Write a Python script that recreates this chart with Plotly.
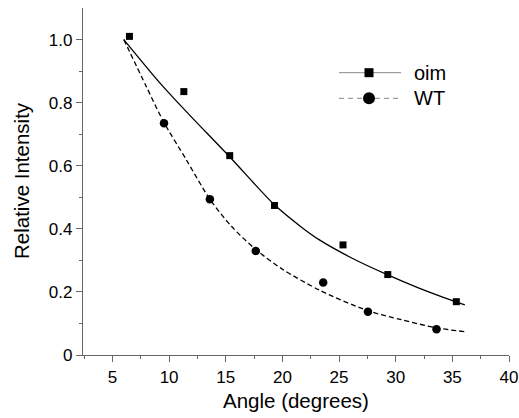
import plotly.graph_objects as go

# Measured data points
oim_angle = [6.5, 11.3, 15.35, 19.3, 25.35, 29.3, 35.35]
oim_intensity = [1.01, 0.835, 0.632, 0.474, 0.349, 0.255, 0.169]
wt_angle = [9.55, 13.6, 17.65, 23.6, 27.55, 33.6]
wt_intensity = [0.735, 0.494, 0.330, 0.230, 0.137, 0.082]

# Fitted curves
oim_fit_angle = [6.0, 9.2, 11.35, 15.3, 19.3, 21.8, 23.3, 26.2, 29.3, 32.0, 35.2, 36.1]
oim_fit_value = [1.0, 0.862, 0.778, 0.630, 0.476, 0.402, 0.364, 0.306, 0.254, 0.213, 0.170, 0.159]
wt_fit_angle = [6.0, 8.0, 9.5, 11.5, 13.6, 15.5, 17.7, 20.0, 23.3, 27.5, 30.5, 33.6, 36.1]
wt_fit_value = [1.0, 0.85, 0.74, 0.62, 0.494, 0.408, 0.333, 0.272, 0.205, 0.141, 0.112, 0.086, 0.074]

x_ticks = [5, 10, 15, 20, 25, 30, 35, 40]
y_ticks = [0, 0.2, 0.4, 0.6, 0.8, 1.0]
y_tick_text = ["0", "0.2", "0.4", "0.6", "0.8", "1.0"]
legend_names = ["oim", "WT"]
x_title = "Angle (degrees)"
y_title = "Relative Intensity"

FONT = "Arial, 'Liberation Sans', Helvetica, sans-serif"

fig = go.Figure()
fig.add_trace(go.Scatter(x=oim_fit_angle, y=oim_fit_value, mode="lines",
                         line=dict(color="black", width=1.3, shape="spline", smoothing=0.8),
                         showlegend=False, hoverinfo="skip"))
fig.add_trace(go.Scatter(x=wt_fit_angle, y=wt_fit_value, mode="lines",
                         line=dict(color="black", width=1.3, dash="5px,3px", shape="spline", smoothing=0.8),
                         showlegend=False, hoverinfo="skip"))
fig.add_trace(go.Scatter(x=oim_angle, y=oim_intensity, mode="markers",
                         marker=dict(symbol="square", size=7, color="black"),
                         name=legend_names[0], showlegend=False))
fig.add_trace(go.Scatter(x=wt_angle, y=wt_intensity, mode="markers",
                         marker=dict(symbol="circle", size=8.5, color="black"),
                         name=legend_names[1], showlegend=False))

# Custom legend and axis titles (paper coordinates)
W, H, L, B = 426.0, 347.0, 83.0, 355.0
def px(x):
    return (x - L) / W
def py(y):
    return (B - y) / H

shapes = []
annotations = []
rows = [(72.7, "solid", "square"), (98.3, "dash", "circle")]
for (ypix, dash, sym), name in zip(rows, legend_names):
    shapes.append(dict(type="line", xref="paper", yref="paper",
                       x0=px(339), x1=px(401), y0=py(ypix), y1=py(ypix),
                       line=dict(color="#888888", width=1, dash="solid" if dash == "solid" else "5px,4px")))
    if sym == "square":
        shapes.append(dict(type="rect", xref="paper", yref="paper",
                           xsizemode="pixel", ysizemode="pixel",
                           xanchor=px(369), yanchor=py(ypix),
                           x0=-4.5, x1=4.5, y0=-4.5, y1=4.5,
                           fillcolor="black", line=dict(width=0)))
    else:
        shapes.append(dict(type="circle", xref="paper", yref="paper",
                           xsizemode="pixel", ysizemode="pixel",
                           xanchor=px(369), yanchor=py(ypix),
                           x0=-6, x1=6, y0=-6, y1=6,
                           fillcolor="black", line=dict(width=0)))
    annotations.append(dict(text=name, xref="paper", yref="paper",
                            x=px(412), y=py(ypix), xanchor="left", yanchor="middle",
                            showarrow=False, font=dict(size=20, color="black", family=FONT)))

annotations.append(dict(text=x_title, xref="paper", yref="paper", x=px(296), y=py(400),
                        xanchor="center", yanchor="middle", showarrow=False,
                        font=dict(size=20.5, color="black", family=FONT)))
annotations.append(dict(text=y_title, xref="paper", yref="paper", x=px(21), y=py(181),
                        xanchor="center", yanchor="middle", showarrow=False, textangle=-90,
                        font=dict(size=20.5, color="black", family=FONT)))

axis_common = dict(showline=True, linecolor="#666666", linewidth=1.3,
                   ticks="outside", ticklen=6, tickwidth=1.3, tickcolor="#666666",
                   showgrid=False, zeroline=False, mirror=False, automargin=False,
                   tickfont=dict(size=17, color="black", family=FONT))

fig.update_layout(
    width=519, height=418,
    margin=dict(l=83, r=10, t=8, b=63),
    paper_bgcolor="white", plot_bgcolor="white",
    font=dict(family=FONT, color="black"),
    shapes=shapes, annotations=annotations,
    xaxis=dict(range=[2.4, 40], tickvals=x_ticks,
               minor=dict(tickvals=[2.5 + 5 * i for i in range(8)], ticklen=3,
                          tickcolor="#666666", tickwidth=1.3, ticks="outside"),
               **axis_common),
    yaxis=dict(range=[0, 1.1], tickvals=y_ticks, ticktext=y_tick_text,
               minor=dict(tickvals=[0.1, 0.3, 0.5, 0.7, 0.9], ticklen=3,
                          tickcolor="#666666", tickwidth=1.3, ticks="outside"),
               **axis_common),
)

fig.write_html("out.html")
